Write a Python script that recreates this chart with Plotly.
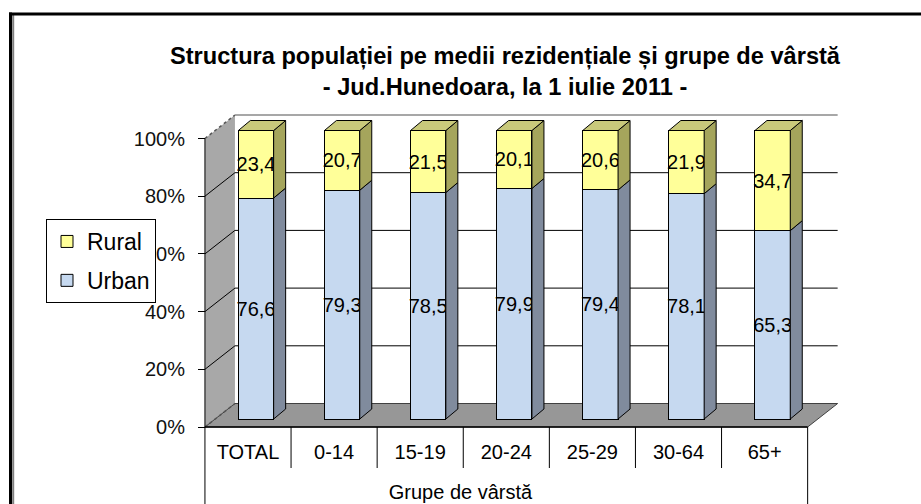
import plotly.graph_objects as go

# ---------------- data ----------------
categories = ["TOTAL", "0-14", "15-19", "20-24", "25-29", "30-64", "65+"]
urban = [76.6, 79.3, 78.5, 79.9, 79.4, 78.1, 65.3]
rural = [23.4, 20.7, 21.5, 20.1, 20.6, 21.9, 34.7]
y_ticks = [0, 20, 40, 60, 80, 100]
y_ticklabels = ["0%", "20%", "40%", "60%", "80%", "100%"]
title_lines = ["Structura populației pe medii rezidențiale și grupe de vârstă",
               "- Jud.Hunedoara, la 1 iulie 2011 -"]
x_title = "Grupe de vârstă"

# ---------------- geometry (pixels) ----------------
W, H = 921, 504
PX_CAT = 86.1          # px per category
PX_PCT = 2.885         # px per percent
FRONT_CX0 = 248.0      # px x of first category centre on front plane
FRONT_Y0 = 427.0       # px y of 0% on front plane
BAR_OFF = (8.0, 8.0)   # depth offset of bar fronts (right, up)
BACK_OFF = (30.0, 23.5)
SIDE_OFF = (12.0, 10.0)
BAR_W = 0.41
FONT = "Liberation Sans, Arial, sans-serif"

URBAN_FRONT, URBAN_SIDE = "#C6D9F0", "#808B9D"
RURAL_FRONT, RURAL_SIDE, RURAL_TOP = "#FFFF99", "#A5A55C", "#C9C97B"

n = len(categories)
idx = list(range(n))


def pt(c, v, off=(0.0, 0.0)):
    """front-plane (category, value) + depth offset in px -> bar-plane axis units"""
    return c + (off[0] - BAR_OFF[0]) / PX_CAT, v + (off[1] - BAR_OFF[1]) / PX_PCT


def path(points):
    return "M " + " L ".join(f"{x:.5f},{y:.5f}" for x, y in points)


fig = go.Figure()

# front faces
fig.add_trace(go.Bar(
    x=idx, y=urban, name="Urban", width=BAR_W,
    marker=dict(color=URBAN_FRONT, line=dict(color="black", width=1)),
    texttemplate="%{y:.1f}", textposition="inside", insidetextanchor="middle",
    textangle=0, constraintext="none", textfont=dict(family=FONT, size=20, color="black"),
    legendgroup="u", legendrank=2, hoverinfo="skip"))
fig.add_trace(go.Bar(
    x=idx, y=rural, name="Rural", width=BAR_W,
    marker=dict(color=RURAL_FRONT, line=dict(color="black", width=1)),
    texttemplate="%{y:.1f}", textposition="inside", insidetextanchor="middle",
    textangle=0, constraintext="none", textfont=dict(family=FONT, size=20, color="black"),
    legendgroup="r", legendrank=1, hoverinfo="skip"))

# side and top faces computed from the data
sx, sy = SIDE_OFF[0] / PX_CAT, SIDE_OFF[1] / PX_PCT


def side_poly(bases, tops):
    xs, ys = [], []
    for i, (b, t) in enumerate(zip(bases, tops)):
        xr = i + BAR_W / 2
        xs += [xr, xr + sx, xr + sx, xr, xr, None]
        ys += [b, b + sy, t + sy, t, b, None]
    return xs, ys


ux, uy = side_poly([0] * n, urban)
rtops = [u + r for u, r in zip(urban, rural)]
rx, ry = side_poly(urban, rtops)
tx, ty = [], []
for i, t in enumerate(rtops):
    xl, xr = i - BAR_W / 2, i + BAR_W / 2
    tx += [xl, xr, xr + sx, xl + sx, xl, None]
    ty += [t, t, t + sy, t + sy, t, None]

for xs, ys, col in [(ux, uy, URBAN_SIDE), (rx, ry, RURAL_SIDE), (tx, ty, RURAL_TOP)]:
    fig.add_trace(go.Scatter(x=xs, y=ys, mode="lines", fill="toself", fillcolor=col,
                             line=dict(color="black", width=1), showlegend=False,
                             hoverinfo="skip"))

# ---------------- walls, floor, gridlines ----------------
shapes = []
c0, c1 = -0.5, n - 0.5
# left wall
shapes.append(dict(type="path", xref="x", yref="y", layer="below",
                   path=path([pt(c0, 0), pt(c0, 100), pt(c0, 100, BACK_OFF), pt(c0, 0, BACK_OFF)]) + " Z",
                   fillcolor="#A8A8A8", line=dict(width=0)))
# floor
shapes.append(dict(type="path", xref="x", yref="y", layer="below",
                   path=path([pt(c0, 0), pt(c1, 0), pt(c1, 0, BACK_OFF), pt(c0, 0, BACK_OFF)]) + " Z",
                   fillcolor="#979797", line=dict(color="#404040", width=1)))
# gridlines
for v in y_ticks[1:]:
    if v == y_ticks[-1]:
        shapes.append(dict(type="path", xref="x", yref="y", layer="below",
                           path=path([pt(c0, v), pt(c0, v, BACK_OFF)]),
                           line=dict(color="#555555", width=1.5, dash="dot")))
        shapes.append(dict(type="path", xref="x", yref="y", layer="below",
                           path=path([pt(c0, v, BACK_OFF), pt(c1, v, BACK_OFF)]),
                           line=dict(color="#8A8A8A", width=1.5)))
    else:
        shapes.append(dict(type="path", xref="x", yref="y", layer="below",
                           path=path([pt(c0, v), pt(c0, v, BACK_OFF), pt(c1, v, BACK_OFF)]),
                           line=dict(color="black", width=1)))
# dotted floor/left wall edge
shapes.append(dict(type="path", xref="x", yref="y", layer="below",
                   path=path([pt(c0, 0), pt(c0, 0, BACK_OFF)]),
                   line=dict(color="#555555", width=1.5, dash="dot")))
# front value axis line
shapes.append(dict(type="path", xref="x", yref="y", layer="above",
                   path=path([pt(c0, 0), pt(c0, 100)]), line=dict(color="black", width=1)))
# category table
shapes.append(dict(type="path", xref="x", yref="y", layer="above",
                   path=path([pt(c0, 0), pt(c1, 0)]), line=dict(color="black", width=1.5)))
div_bottom = -41 / PX_PCT
edge_bottom = -90 / PX_PCT
for k in range(n + 1):
    c = c0 + k
    bot = edge_bottom if k in (0, n) else div_bottom
    shapes.append(dict(type="path", xref="x", yref="y", layer="above",
                       path=path([pt(c, 0), pt(c, bot)]), line=dict(color="black", width=1)))

# outer frame
shapes.append(dict(type="line", xref="paper", yref="paper", x0=13.2 / W, x1=13.2 / W,
                   y0=-0.1, y1=1 - 15 / H, line=dict(color="#808080", width=2)))
shapes.append(dict(type="line", xref="paper", yref="paper", x0=10.5 / W, x1=10.5 / W,
                   y0=-0.1, y1=1 - 12.5 / H, line=dict(color="black", width=3)))
shapes.append(dict(type="line", xref="paper", yref="paper", x0=9 / W, x1=1.1,
                   y0=1 - 14 / H, y1=1 - 14 / H, line=dict(color="black", width=3)))

# ---------------- axes ----------------
bx0 = FRONT_CX0 + BAR_OFF[0]
by0 = FRONT_Y0 - BAR_OFF[1]
fig.update_layout(
    width=W, height=H, autosize=False,
    margin=dict(l=0, r=0, t=0, b=0, pad=0),
    paper_bgcolor="white", plot_bgcolor="white",
    barmode="stack", separators=",.",
    shapes=shapes,
    showlegend=True,
    legend=dict(x=46 / W, y=1 - 219 / H, xanchor="left", yanchor="top",
                bgcolor="white", bordercolor="black", borderwidth=1,
                font=dict(family=FONT, size=23, color="black"),
                traceorder="grouped", tracegroupgap=6),
    title=dict(text="<br>".join(title_lines), x=505 / W, xanchor="center",
               y=1 - 64 / H, yanchor="top",
               font=dict(family=FONT, size=23.6, color="black", weight="bold")),
    xaxis=dict(range=[(0 - bx0) / PX_CAT, (W - bx0) / PX_CAT], visible=False, fixedrange=True),
    yaxis=dict(range=[(by0 - H) / PX_PCT, by0 / PX_PCT], visible=False, fixedrange=True),
    xaxis2=dict(range=[(0 - FRONT_CX0) / PX_CAT, (W - FRONT_CX0) / PX_CAT],
                overlaying="x", anchor="free", position=1 - 438 / H, side="bottom",
                tickmode="array", tickvals=idx, ticktext=categories,
                ticks="", showline=False, showgrid=False, zeroline=False,
                tickfont=dict(family=FONT, size=20, color="black"),
                title=dict(text=x_title, font=dict(family=FONT, size=20, color="black"), standoff=22)),
    yaxis2=dict(range=[(FRONT_Y0 - H) / PX_PCT, FRONT_Y0 / PX_PCT],
                overlaying="y", anchor="free", position=205 / W, side="left",
                tickmode="array", tickvals=y_ticks, ticktext=y_ticklabels,
                ticks="outside", ticklen=7, tickcolor="black", tickwidth=1,
                ticklabelstandoff=9,
                showline=False, showgrid=False, zeroline=False,
                tickfont=dict(family=FONT, size=20, color="#111111")),
)
# invisible trace to activate the front-plane axes
fig.add_trace(go.Scatter(x=[0], y=[0], xaxis="x2", yaxis="y2", mode="markers",
                         marker=dict(opacity=0), showlegend=False, hoverinfo="skip"))

fig.write_html("out.html", config={"displayModeBar": False},
               post_script="document.body.style.margin='0';")
